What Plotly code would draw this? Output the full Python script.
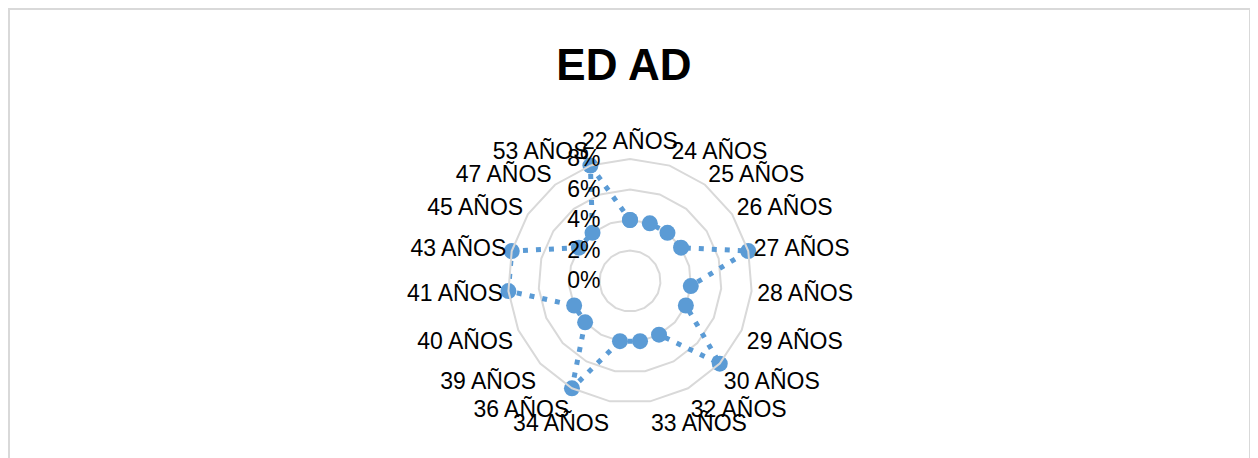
import plotly.graph_objects as go

# -------------------------------------------------
# DATA
# -------------------------------------------------
categories = [
    "22 AÑOS", "24 AÑOS", "25 AÑOS", "26 AÑOS", "27 AÑOS", "28 AÑOS",
    "29 AÑOS", "30 AÑOS", "32 AÑOS", "33 AÑOS", "34 AÑOS", "36 AÑOS",
    "39 AÑOS", "40 AÑOS", "41 AÑOS", "43 AÑOS", "45 AÑOS", "47 AÑOS",
    "53 AÑOS",
]
shares = [
    0.04, 0.04, 0.04, 0.04, 0.08, 0.04,
    0.04, 0.08, 0.04, 0.04, 0.04, 0.08,
    0.04, 0.04, 0.08, 0.08, 0.04, 0.04,
    0.08,
]
radial_ticks = [0, 0.02, 0.04, 0.06, 0.08]
radial_labels = ["0%", "2%", "4%", "6%", "8%"]

W, H = 1258, 458
OFF = 8  # page body margin shifts the plot by 8px
BLUE = "#5b9bd5"
GRID = "#d9d9d9"
FONT = "Liberation Sans"
PAD = "\u00a0" * 4  # push radial labels left of the axis

fig = go.Figure()

fig.add_trace(
    go.Scatterpolar(
        r=shares + shares[:1],
        theta=categories + categories[:1],
        mode="lines+markers",
        line=dict(color=BLUE, width=5, dash="5px,8px"),
        marker=dict(color=BLUE, size=16),
        showlegend=False,
    )
)

# polar area: centre ~ (630, 281), radius ~122 px (screen coords)
cx, cy, rad = 630 - OFF, 281 - OFF, 122

fig.update_layout(
    width=W,
    height=H,
    margin=dict(l=0, r=0, t=0, b=0),
    paper_bgcolor="white",
    font=dict(family=FONT, color="black", size=23),
    title=dict(
        text="<b>ED AD</b>",
        x=(624 - OFF) / W,
        xanchor="center",
        y=1 - (65 - OFF) / H,
        yanchor="middle",
        font=dict(size=44, family=FONT, color="black"),
    ),
    polar=dict(
        domain=dict(
            x=[(cx - rad) / W, (cx + rad) / W],
            y=[(H - cy - rad) / H, (H - cy + rad) / H],
        ),
        bgcolor="white",
        gridshape="linear",
        radialaxis=dict(
            range=[0, 0.08],
            tickvals=radial_ticks,
            ticktext=[t + PAD for t in radial_labels],
            angle=90,
            tickangle=90,
            side="counterclockwise",
            showline=False,
            ticks="",
            gridcolor=GRID,
            gridwidth=2,
            tickfont=dict(size=23, family=FONT),
        ),
        angularaxis=dict(
            direction="clockwise",
            rotation=90,
            showgrid=False,
            showline=True,
            linecolor=GRID,
            linewidth=2,
            ticks="",
            tickfont=dict(size=23, family=FONT),
        ),
    ),
    shapes=[
        dict(
            type="rect",
            xref="paper",
            yref="paper",
            x0=1 / W,
            x1=(1250 - OFF) / W,
            y0=-0.05,
            y1=1 - 1 / H,
            line=dict(color=GRID, width=2),
            layer="below",
        )
    ],
)

fig.write_html("out.html")
